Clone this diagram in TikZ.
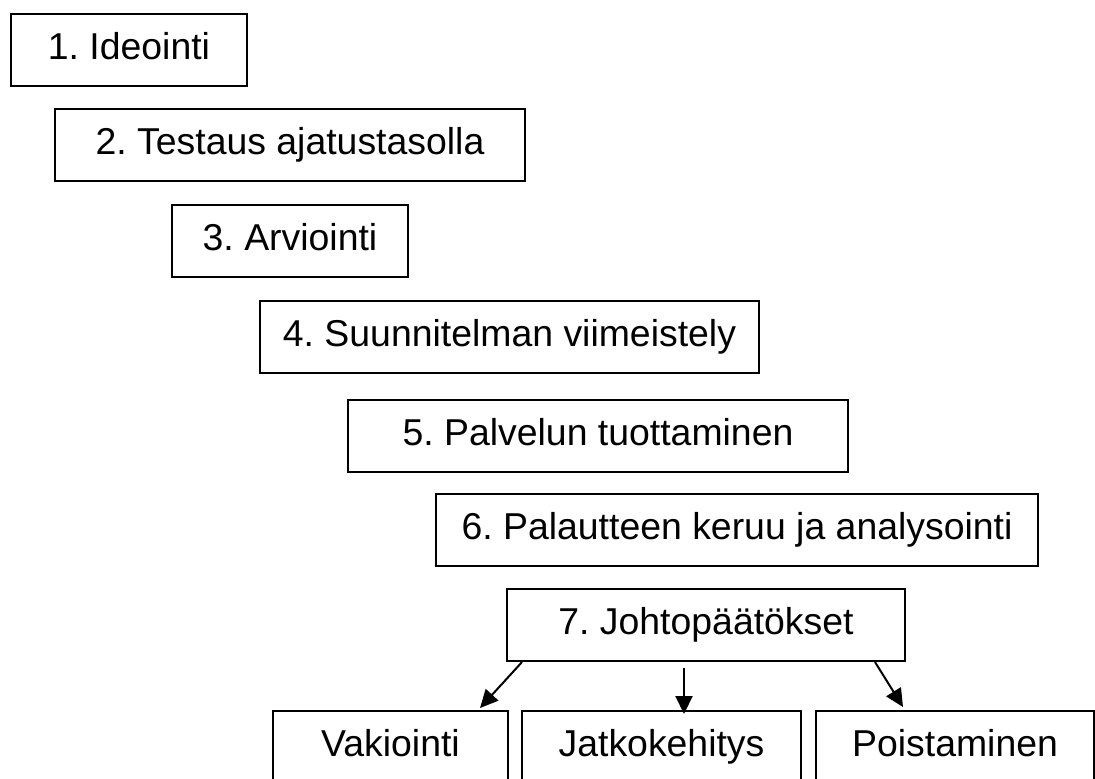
\documentclass[tikz,border=0pt]{standalone}
\usepackage{fontspec}
\setmainfont{Liberation Sans}
\frenchspacing
\usetikzlibrary{arrows.meta}

\tikzset{
	stage/.style={draw, line width=1pt, minimum height=36pt, inner sep=0pt, text height=13.5pt, text depth=4pt, font=\fontsize{18.7pt}{22pt}\selectfont},
	arr/.style={line width=1pt, -{Triangle[length=9pt,width=8.5pt]}}
}

\begin{document}
\begin{tikzpicture}[x=0.5pt, y=-0.5pt]
			%%%%% START %%%%%
			
			\useasboundingbox (0, 0) rectangle (1095, 778);
			\clip (0, 0) rectangle (1095, 778);
			
			\node[stage, minimum width=118pt] (ide) at (129, 49.5) {1. Ideointi};
			\node[stage, minimum width=235pt] (tes) at (290, 145) {2. Testaus ajatustasolla};
			\node[stage, minimum width=118pt] (arv) at (290, 241) {3. Arviointi};
			\node[stage, minimum width=249.5pt] (suu) at (509.5, 337) {4. Suunnitelman viimeistely};
			\node[stage, minimum width=250pt] (pal) at (598, 435.5) {5. Palvelun tuottaminen};
			\node[stage, minimum width=301pt] (ana) at (737, 529.5) {6. Palautteen keruu ja analysointi};
			\node[stage, minimum width=199pt] (jp) at (706, 625) {7. Johtopäätökset};
			
			\node[stage, minimum width=117.5pt] (vak) at (390.5, 747) {Vakiointi};
			\node[stage, minimum width=139.5pt] (jat) at (661.5, 747) {Jatkokehitys};
			\node[stage, minimum width=139pt] (poi) at (955, 747) {Poistaminen};
			
			\draw[arr] ([xshift=8pt]jp.south west) -- ([xshift=-14.5pt, yshift=1pt]vak.north east);
			\draw[arr] ([xshift=-11pt, yshift=-3pt]jp.south) -- ([xshift=11.25pt, yshift=-2pt]jat.north);
			\draw[arr] ([xshift=-15.5pt]jp.south east) -- ([xshift=44pt, yshift=1.5pt]poi.north west);
			
			%%%%% END %%%%%
\end{tikzpicture}
\end{document}
